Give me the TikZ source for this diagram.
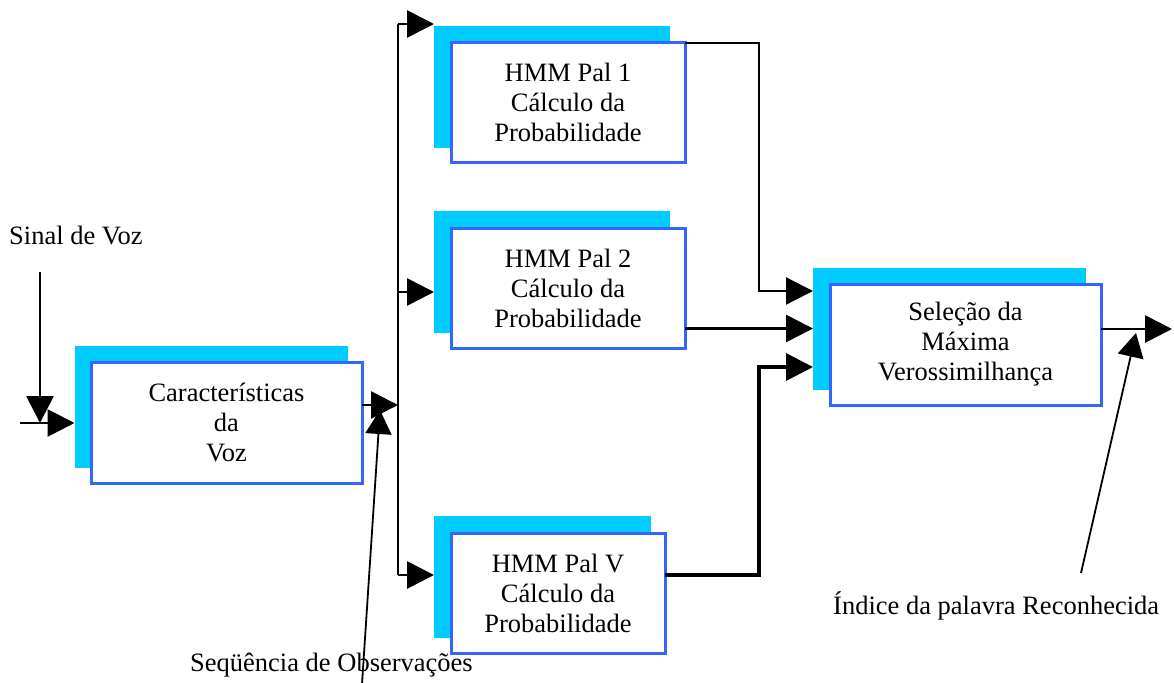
\documentclass[tikz,border=0pt]{standalone}
\usepackage{fontspec}
\setmainfont{Liberation Serif}
\usetikzlibrary{arrows.meta,backgrounds,calc}

\definecolor{shadowcyan}{RGB}{0,204,255}
\definecolor{boxblue}{RGB}{51,102,255}

\tikzset{
  txt/.style={font=\fontsize{26.5}{30}\selectfont},
  blk/.style={draw=boxblue, line width=3pt, fill=white, align=center,
              inner sep=0pt, outer sep=0pt, txt},
  shadowbox/.style={fill=shadowcyan, draw=none, inner sep=0pt, outer sep=0pt},
  conn/.style={line width=2.8pt, -{Triangle[length=27pt,width=27pt]}},
  wire/.style={line width=2.8pt},
  ptr/.style={line width=1.8pt, -{Triangle[length=24pt,width=26pt]}},
  lbl/.style={txt, inner sep=0pt, anchor=west}
}

\begin{document}
\begin{tikzpicture}[x=1pt, y=-1pt]
\path[use as bounding box] (0,0) rectangle (1174,682);

% processing blocks
\node[blk, minimum width=271pt, minimum height=121pt] (car) at (226.5,422.5)
  {Características\\da\\Voz};
\node[blk, minimum width=234pt, minimum height=119pt] (p1) at (568,102.5)
  {HMM Pal 1\\Cálculo da\\Probabilidade};
\node[blk, minimum width=234pt, minimum height=120pt] (p2) at (568,288)
  {HMM Pal 2\\Cálculo da\\Probabilidade};
\node[blk, minimum width=214pt, minimum height=120pt] (pv) at (558,593)
  {HMM Pal V\\Cálculo da\\Probabilidade};
\node[blk, minimum width=271pt, minimum height=121pt] (sel) at (965.5,344.5)
  {Seleção da\\Máxima\\Verossimilhança};

% cyan offset panels behind each block
\begin{pgfonlayer}{background}
  \node[shadowbox, minimum width=273pt, minimum height=122pt] (carS) at ($(car.center)+(-15.5,-16)$) {};
  \node[shadowbox, minimum width=236pt, minimum height=122pt] (p1S) at ($(p1.center)+(-16,-15.5)$) {};
  \node[shadowbox, minimum width=236pt, minimum height=122pt] (p2S) at ($(p2.center)+(-16,-16)$) {};
  \node[shadowbox, minimum width=217pt, minimum height=122pt] (pvS) at ($(pv.center)+(-15.5,-16)$) {};
  \node[shadowbox, minimum width=273pt, minimum height=122pt] (selS) at ($(sel.center)+(-16,-16)$) {};
\end{pgfonlayer}

% free ends and routing points
\coordinate (in0) at (20,423);
\coordinate (sv) at (40,272);
\coordinate (jn) at (398,405);
\coordinate (bt) at (398,24);
\coordinate (b2) at (398,292);
\coordinate (bb) at (398,575);
\coordinate (m1) at (759,291);
\coordinate (m3) at (759,367);
\coordinate (out) at (1172,329);
\coordinate (seqfoot) at (362,684);
\coordinate (seqtip) at (380,410);
\coordinate (idxfoot) at (1081,573);
\coordinate (idxtip) at (1136,333);

% labels
\node[lbl] (sinal) at (9,236) {Sinal de Voz};
\node[lbl] (seq) at (190,665) {Seqüência de Observações};
\node[lbl] (idx) at (833,606) {Índice da palavra Reconhecida};

% input signal
\draw[conn] (sv) -- (sv |- in0);
\draw[conn] (in0) -- (in0 -| carS.west);

% feature vector to the distribution bus
\draw[conn] (car.east |- jn) -- (jn);
\draw[wire] (bt) -- (bb);
\draw[conn] (bt) -- (bt -| p1S.west);
\draw[conn] (b2) -- (b2 -| p2S.west);
\draw[conn] (bb) -- (bb -| pvS.west);

% model scores into the selector
\draw[conn, line width=2.2pt] (p1.north east) -| (m1) -- (m1 -| selS.west);
\draw[conn] (p2.east |- selS.west) -- (selS.west);
\draw[conn, line width=3.4pt] (pv.east |- bb) -| (m3) -- (m3 -| selS.west);

% recognised word output
\draw[conn] (sel.east |- out) -- (out);

% label pointers
\draw[ptr] (seqfoot) -- (seqtip);
\draw[ptr] (idxfoot) -- (idxtip);
\end{tikzpicture}
\end{document}
